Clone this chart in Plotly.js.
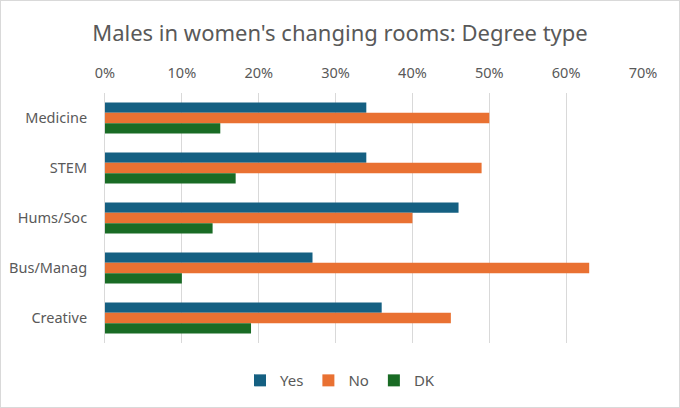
<!DOCTYPE html>
<html>
<head>
<meta charset="utf-8">
<script src="https://cdn.plot.ly/plotly-3.0.1.min.js"></script>
<style>
  body { margin: 0; background: #fff; }
  #frame { width: 680px; height: 408px; box-sizing: border-box; border: 1px solid #d9d9d9; }
  #chart { width: 678px; height: 406px; }
</style>
</head>
<body>
<div id="frame"><div id="chart"></div></div>
<script>
var categories = ['Medicine', 'STEM', 'Hums/Soc', 'Bus/Manag', 'Creative'];
var yesValues = [0.34, 0.34, 0.46, 0.27, 0.36];
var noValues = [0.50, 0.49, 0.40, 0.63, 0.45];
var dkValues = [0.15, 0.17, 0.14, 0.10, 0.19];

var textColor = '#595959';
var fontFamily = '"Noto Sans", "Open Sans", sans-serif';

var trace1 = {
    y: categories,
    x: yesValues,
    name: 'Yes',
    type: 'bar',
    orientation: 'h',
    marker: {color: '#156082'},
    hoverinfo: 'none'
  };

var trace2 = {
    y: categories,
    x: noValues,
    name: 'No',
    type: 'bar',
    orientation: 'h',
    marker: {color: '#E97132'},
    hoverinfo: 'none'
  };

var trace3 = {
    y: categories,
    x: dkValues,
    name: 'DK',
    type: 'bar',
    orientation: 'h',
    marker: {color: '#196B24'},
    hoverinfo: 'none'
  };

var layout = {
    width: 678,
    height: 406,
    margin: {l: 104, r: 36, t: 92, b: 64},
    paper_bgcolor: '#fff',
    plot_bgcolor: '#fff',
    font: {family: fontFamily, color: textColor, size: 14},
    title: {
        text: "Males in women's changing rooms: Degree type",
        font: {size: 22, color: textColor, family: fontFamily},
        x: 0.5,
        xref: 'container',
        y: 0.92,
        yref: 'container',
        yanchor: 'middle'
    },
    barmode: 'group',
    bargap: 0.38,
    bargroupgap: 0,
    xaxis: {
        side: 'top',
        range: [0, 0.7],
        dtick: 0.1,
        tickformat: '.0%',
        showgrid: true,
        gridcolor: '#d9d9d9',
        gridwidth: 1,
        zeroline: false,
        showline: false,
        ticks: '',
        ticklabelstandoff: 11,
        tickfont: {size: 14.5, color: textColor}
    },
    yaxis: {
        autorange: 'reversed',
        showline: true,
        linecolor: '#d9d9d9',
        linewidth: 1,
        showgrid: false,
        ticks: '',
        ticklabelstandoff: 14,
        tickfont: {size: 14.5, color: textColor}
    },
    showlegend: true,
    legend: {
        orientation: 'h',
        x: 0.5,
        xref: 'container',
        xanchor: 'center',
        y: 0.065,
        yref: 'container',
        yanchor: 'middle',
        font: {size: 15, color: textColor},
        itemwidth: 30,
        tracegroupgap: 0
    }
  };

var data = [trace1, trace2, trace3];

Plotly.newPlot('chart', data, layout, {displayModeBar: false, staticPlot: true});
</script>
</body>
</html>
